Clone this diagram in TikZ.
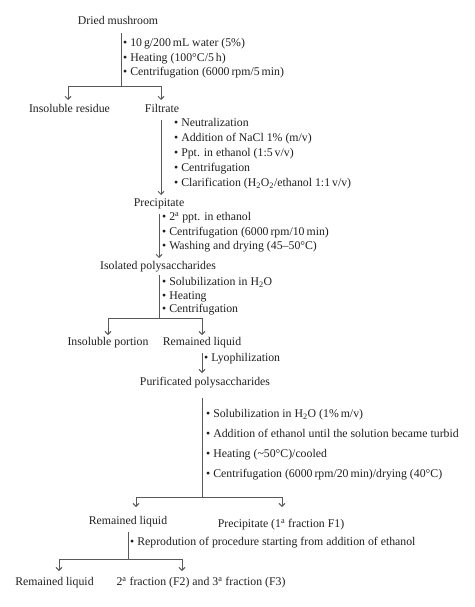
\documentclass[tikz,border=0pt]{standalone}
\usepackage{fontspec}
\setmainfont{Liberation Serif}
\usetikzlibrary{arrows.meta}
\begin{document}
\begin{tikzpicture}[x=1pt,y=-1pt,
  lbl/.style={inner sep=1pt, text height=7.5pt, text depth=2.5pt, font=\fontsize{11.8}{14}\selectfont, text=black!88},
  bul/.style={lbl, anchor=west},
  ln/.style={draw=black!65, line width=0.9pt},
  arr/.style={ln, -{Straight Barb[length=3pt,width=6pt]}}]
\useasboundingbox (0,0) rectangle (474,607);

% step 1
\node[lbl] (dried) at (118,22) {Dried mushroom};
\node[bul] (a1) at (122,44) {\textbullet\ 10\,g/200\,mL water (5\%)};
\node[bul] (a2) at (122,59) {\textbullet\ Heating (100\textdegree C/5\,h)};
\node[bul] (a3) at (122,73) {\textbullet\ Centrifugation (6000\,rpm/5\,min)};
\coordinate (j1) at (121,86);
\coordinate (t1l) at (68,100);
\coordinate (t1r) at (161,100);
\node[lbl] (residue) at (69.5,110) {Insoluble residue};
\node[lbl] (filtrate) at (162,110) {Filtrate};
\draw[ln, shorten <=5pt] (dried.south -| j1) -- (j1);
\draw[arr] (j1) -| (t1l);
\draw[arr] (j1) -| (t1r);

% step 2
\node[bul] (b1) at (173,124) {\textbullet\ Neutralization};
\node[bul] (b2) at (173,139) {\textbullet\ Addition of NaCl 1\% (m/v)};
\node[bul] (b3) at (173,154) {\textbullet\ Ppt. in ethanol (1:5\,v/v)};
\node[bul] (b4) at (173,169) {\textbullet\ Centrifugation};
\node[bul] (b5) at (173,184) {\textbullet\ Clarification (H\textsubscript{2}O\textsubscript{2}/ethanol 1:1\,v/v)};
\coordinate (t2) at (161,195);
\node[lbl] (prec) at (159,204) {Precipitate};
\draw[arr, shorten <=4pt] (filtrate.south -| t2) -- (t2);

% step 3
\node[bul] (c1) at (161,218) {\textbullet\ 2\textsuperscript{a} ppt. in ethanol};
\node[bul] (c2) at (161,233) {\textbullet\ Centrifugation (6000\,rpm/10\,min)};
\node[bul] (c3) at (161,247) {\textbullet\ Washing and drying (45--50\textdegree C)};
\coordinate (t3) at (159,258);
\node[lbl] (iso) at (158,267) {Isolated polysaccharides};
\draw[arr, shorten <=4pt] (prec.south -| t3) -- (t3);

% step 4
\node[bul] (d1) at (161,283) {\textbullet\ Solubilization in H\textsubscript{2}O};
\node[bul] (d2) at (161,296.5) {\textbullet\ Heating};
\node[bul] (d3) at (161,310) {\textbullet\ Centrifugation};
\coordinate (j4) at (159,318);
\coordinate (t4l) at (108,335);
\coordinate (t4r) at (202,335);
\node[lbl] (insol) at (108,343) {Insoluble portion};
\node[lbl] (rem1) at (202,343) {Remained liquid};
\draw[ln, shorten <=2pt] (iso.south -| j4) -- (j4);
\draw[arr] (j4) -| (t4l);
\draw[arr] (j4) -| (t4r);

% step 5
\node[bul] (e1) at (203,359) {\textbullet\ Lyophilization};
\coordinate (t5) at (202,373);
\node[lbl] (purif) at (205,383) {Purificated polysaccharides};
\draw[arr, shorten <=4pt] (rem1.south -| t5) -- (t5);

% step 6
\node[bul] (f1) at (205,415) {\textbullet\ Solubilization in H\textsubscript{2}O (1\%\,m/v)};
\node[bul] (f2) at (205,435) {\textbullet\ Addition of ethanol until the solution became turbid};
\node[bul] (f3) at (205,455) {\textbullet\ Heating (\textasciitilde50\textdegree C)/cooled};
\node[bul] (f4) at (205,475) {\textbullet\ Centrifugation (6000\,rpm/20\,min)/drying (40\textdegree C)};
\coordinate (j6) at (202,497);
\coordinate (t6l) at (136,507);
\coordinate (t6r) at (282,507);
\node[lbl] (rem2) at (128,522) {Remained liquid};
\node[lbl] (precf) at (281,525) {Precipitate (1\textsuperscript{a} fraction F1)};
\draw[ln, shorten <=9pt] (purif.south -| j6) -- (j6);
\draw[arr] (j6) -| (t6l);
\draw[arr] (j6) -| (t6r);

% step 7
\node[bul] (g1) at (129,543) {\textbullet\ Reprodution of procedure starting from addition of ethanol};
\coordinate (j7) at (128,559);
\coordinate (t7l) at (59,571);
\coordinate (t7r) at (182,571);
\node[lbl] (rem3) at (54.5,583) {Remained liquid};
\node[lbl] (frac) at (201,583) {2\textsuperscript{a} fraction (F2) and 3\textsuperscript{a} fraction (F3)};
\draw[ln, shorten <=4pt] (rem2.south -| j7) -- (j7);
\draw[arr] (j7) -| (t7l);
\draw[arr] (j7) -| (t7r);
\end{tikzpicture}
\end{document}
